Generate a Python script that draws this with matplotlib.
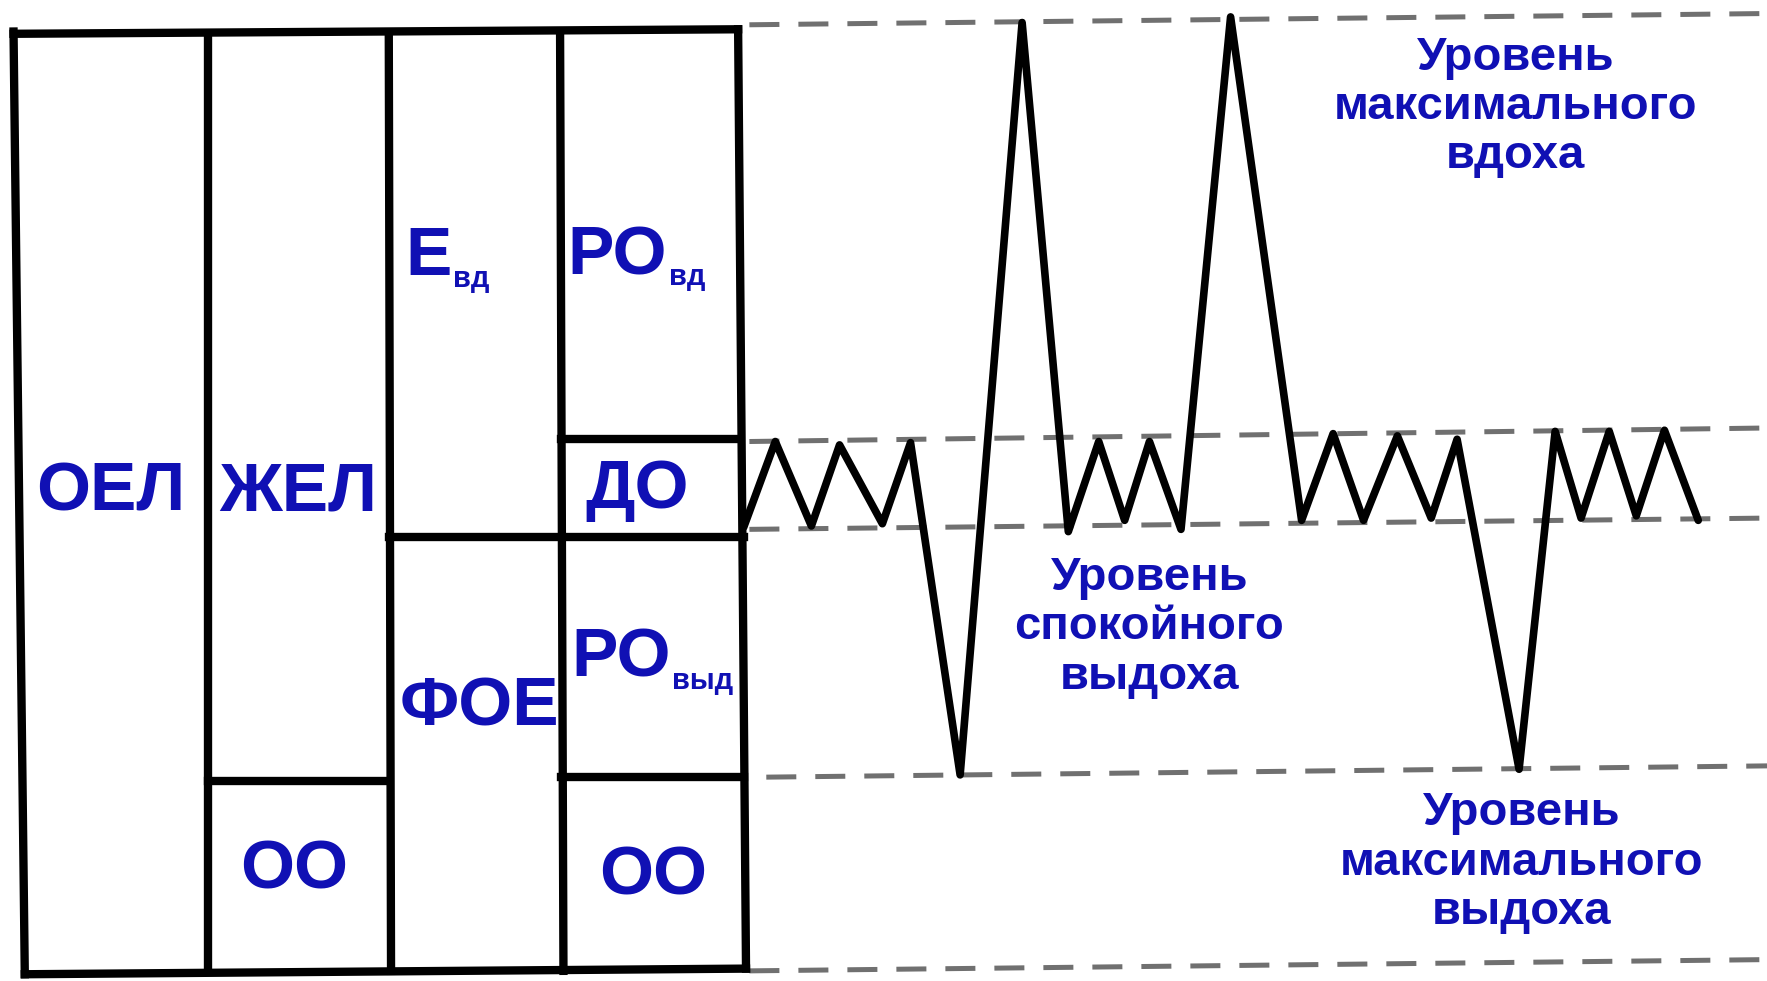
import matplotlib.pyplot as plt

plt.rcParams['font.family'] = ['Liberation Sans', 'DejaVu Sans']

# spirogram trace (x, y in picture units, y grows downwards)
trace_x = [660, 688, 720, 745, 783, 808, 852, 907, 948, 975, 998, 1020, 1048, 1092,
           1155, 1183, 1210, 1240, 1270, 1293, 1348, 1380, 1403, 1428, 1452, 1477, 1507]
trace_y = [468, 392, 467, 395, 465, 393, 688, 20, 472, 392, 462, 392, 470, 15,
           462, 385, 462, 387, 460, 390, 683, 383, 460, 383, 458, 382, 462]

# dashed levels: max inspiration, end of quiet inspiration, quiet expiration, max expiration, bottom
level_x0 = [665, 665, 665, 680, 665]
level_x1 = [1568, 1568, 1568, 1568, 1568]
level_y0 = [22, 392, 470, 690, 862]
level_y1 = [12, 380, 460, 680, 852]

# table borders as segments (x0, y0, x1, y1)
cells = [
    (12, 30, 655, 26), (22, 865, 662, 860), (12, 28, 22, 865), (655, 26, 662, 860),
    (185, 30, 185, 862), (345, 30, 347, 862), (497, 28, 500, 862),
    (498, 390, 657, 390), (345, 477, 660, 477), (185, 693, 345, 693), (498, 690, 660, 690),
]

# volume labels
labels = ['ОЕЛ', 'ЖЕЛ', 'Е', 'РО', 'ДО', 'РО', 'ФОЕ', 'ОО', 'ОО']
label_x = [98, 265, 380, 548, 565, 551, 425, 261, 580]
label_y = [437, 437, 228, 228, 435, 585, 628, 773, 778]
subs = ['вд', 'вд', 'выд']
sub_x = [418, 610, 623]
sub_y = [248, 246, 605]

# level captions
captions = ['Уровень\nмаксимального\nвдоха', 'Уровень\nспокойного\nвыдоха',
            'Уровень\nмаксимального\nвыдоха']
cap_x = [1345, 1020, 1350]
cap_y = [95, 557, 766]

blue = '#1010b4'

fig = plt.figure(figsize=(17.67, 9.81), dpi=100)
ax = fig.add_axes([0, 0, 1, 1])
ax.set_xlim(0, 1568)
ax.set_ylim(871, 0)
ax.axis('off')

for x0, x1, y0, y1 in zip(level_x0, level_x1, level_y0, level_y1):
    ax.plot([x0, x1], [y0, y1], color='#707070', lw=3.6, dashes=(6, 3.8), zorder=1)

for x0, y0, x1, y1 in cells:
    ax.plot([x0, x1], [y0, y1], color='black', lw=6, solid_capstyle='projecting', zorder=2)

ax.plot(trace_x, trace_y, color='black', lw=5.5, solid_joinstyle='round',
        solid_capstyle='round', zorder=3)

for t, x, y in zip(labels, label_x, label_y):
    ax.text(x, y, t, color=blue, fontsize=50, fontweight='bold', ha='center', va='center')
for t, x, y in zip(subs, sub_x, sub_y):
    ax.text(x, y, t, color=blue, fontsize=21, fontweight='bold', ha='center', va='center')
for t, x, y in zip(captions, cap_x, cap_y):
    ax.text(x, y, t, color=blue, fontsize=34, fontweight='bold', ha='center', va='center',
            linespacing=1.16)

plt.savefig('out.png', dpi=100)
